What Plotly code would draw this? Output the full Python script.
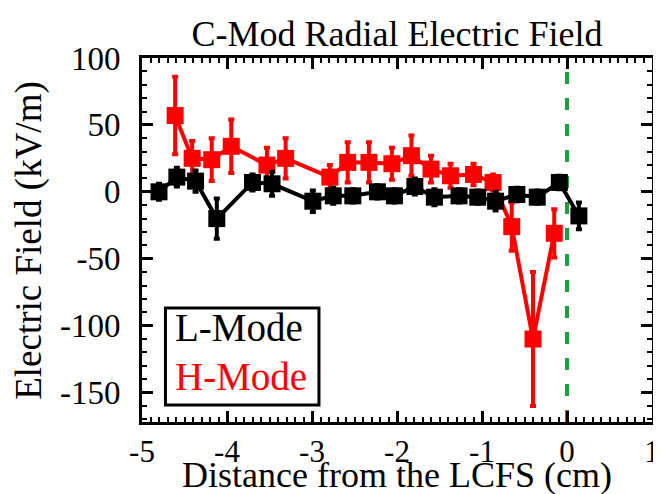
import plotly.graph_objects as go

# L-Mode profile (black)
l_dist = [-4.80, -4.59, -4.37, -4.12, -3.70, -3.47, -2.99, -2.75, -2.52, -2.23,
          -2.03, -1.79, -1.56, -1.27, -1.05, -0.84, -0.59, -0.35, -0.09, 0.14]
l_field = [0, 11, 8, -20, 7, 6, -7, -3, -3, 0,
           -3, 4, -4, -3, -4, -7, -2, -4, 7, -18]
l_err = [6, 7, 8, 15, 6, 9, 8, 6, 5, 5,
         5, 6, 6, 5, 5, 7, 5, 5, 5, 10]

# H-Mode profile (red)
h_dist = [-4.61, -4.41, -4.18, -3.95, -3.53, -3.31, -2.79, -2.58, -2.33,
          -2.06, -1.83, -1.60, -1.37, -1.10, -0.87, -0.65, -0.40, -0.15]
h_field = [57, 25, 24, 34, 20, 25, 11, 22, 22,
           21, 27, 17, 12, 13, 7, -26, -110, -31]
h_err = [29, 13, 16, 20, 13, 15, 9, 15, 15,
         12, 15, 10, 9, 8, 6, 18, 50, 18]

FONT = "Liberation Serif"
RED = "#FF0000"

fig = go.Figure()

# separatrix marker
fig.add_trace(go.Scatter(
    x=[0, 0], y=[-172, 100], mode="lines",
    line=dict(color="#1E9E3C", width=4, dash="12px,14px"),
    showlegend=False, hoverinfo="skip"))

fig.add_trace(go.Scatter(
    x=h_dist, y=h_field, mode="lines+markers", name="H-Mode",
    line=dict(color=RED, width=4),
    marker=dict(symbol="square", size=17, color=RED),
    error_y=dict(type="data", array=h_err, color=RED, thickness=4, width=3),
    showlegend=False))

fig.add_trace(go.Scatter(
    x=l_dist, y=l_field, mode="lines+markers", name="L-Mode",
    line=dict(color="black", width=4),
    marker=dict(symbol="square", size=17, color="black"),
    error_y=dict(type="data", array=l_err, color="black", thickness=4, width=3),
    showlegend=False))

axis_common = dict(
    showline=True, linecolor="black", linewidth=3, mirror="allticks",
    ticks="inside", ticklen=11, tickwidth=3, tickcolor="black",
    showgrid=False, zeroline=False,
)

fig.update_xaxes(
    range=[-5, 1], tickvals=[-5, -4, -3, -2, -1, 0, 1],
    ticktext=["-5", "-4", "-3", "-2", "-1", "0", "1"],
    minor=dict(dtick=0.1, ticks="inside", ticklen=5, tickwidth=2, tickcolor="black"),
    tickfont=dict(family=FONT, size=31, color="black"),
    **axis_common)

fig.update_yaxes(
    range=[-172, 100], tickvals=[-150, -100, -50, 0, 50, 100],
    ticktext=["-150", "-100", "-50", "0", "50", "100"],
    minor=dict(dtick=10, ticks="inside", ticklen=5, tickwidth=2, tickcolor="black"),
    tickfont=dict(family=FONT, size=33, color="black"),
    ticklabelstandoff=12,
    **axis_common)

# axis titles as annotations for exact placement
fig.add_annotation(xref="paper", yref="paper", x=0.5, y=-0.145,
                   xanchor="center", yanchor="middle", showarrow=False,
                   text="Distance from the LCFS (cm)",
                   font=dict(family=FONT, size=36, color="black"))
fig.add_annotation(xref="paper", yref="paper", x=-0.222, y=0.5,
                   xanchor="center", yanchor="middle", showarrow=False,
                   textangle=-90, text="Electric Field (kV/m)",
                   font=dict(family=FONT, size=37, color="black"))

# legend box drawn by hand
fig.add_shape(type="rect", xref="paper", yref="paper",
              x0=0.046, x1=0.347, y0=0.047, y1=0.313,
              line=dict(color="black", width=3), fillcolor="white")
fig.add_annotation(xref="paper", yref="paper", x=0.060, y=0.260,
                   xanchor="left", yanchor="middle", showarrow=False,
                   text="L-Mode", font=dict(family=FONT, size=39, color="black"))
fig.add_annotation(xref="paper", yref="paper", x=0.060, y=0.126,
                   xanchor="left", yanchor="middle", showarrow=False,
                   text="H-Mode", font=dict(family=FONT, size=39, color=RED))

fig.update_layout(
    width=661, height=494,
    margin=dict(l=134, r=9, t=50, b=80),
    paper_bgcolor="white", plot_bgcolor="white",
    title=dict(text="C-Mod Radial Electric Field", x=0.5, xref="paper",
               y=1 - 25 / 494, yanchor="middle",
               font=dict(family=FONT, size=36, color="black")),
)

fig.write_html("out.html")
